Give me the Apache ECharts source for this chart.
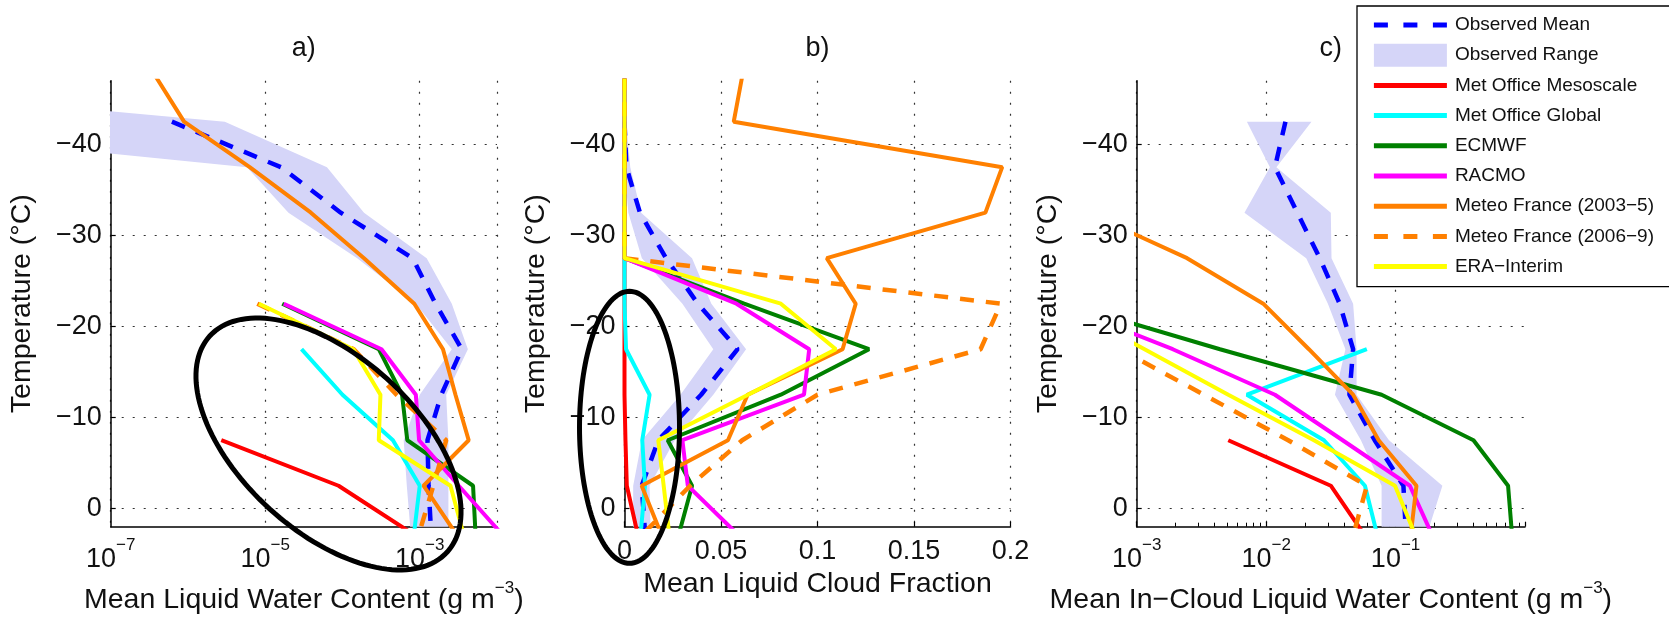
<!DOCTYPE html>
<html><head><meta charset="utf-8">
<script src="https://cdn.jsdelivr.net/npm/echarts@6/dist/echarts.min.js"></script>
<style>html,body{margin:0;padding:0;background:#fff;}#c{width:1669px;height:617px;}</style>
</head><body><div id="c"></div>
<script>
// ---------------- DATA ----------------
const temps = [-47.5, -42.5, -37.5, -32.5, -27.5, -22.5, -17.5, -12.5, -7.5, -2.5, 2.5];
const yTicks = [-40, -30, -20, -10, 0];
const seriesNames = ['Observed Mean', 'Observed Range', 'Met Office Mesoscale', 'Met Office Global', 'ECMWF', 'RACMO', 'Meteo France (2003\u22125)', 'Meteo France (2006\u22129)', 'ERA\u2212Interim'];

// a) Mean Liquid Water Content (g m-3)
const aMean    = [null, 6.2e-7, 1.6e-5, 9.5e-5, 8.1e-4, 1.6e-3, 3.5e-3, 1.9e-3, 1.26e-3, 1.3e-3, 1.4e-3];
const aRangeLo = [1e-12, 7.9e-12, 5.8e-6, 2.0e-5, 1.55e-4, 8.9e-4, 2.6e-3, 1.0e-3, 6.2e-4, 6.8e-4, 7.6e-4];
const aRangeHi = [1e-12, 3.0e-6, 6.3e-5, 1.9e-4, 1.23e-3, 2.6e-3, 4.2e-3, 2.2e-3, 2.35e-3, 2.35e-3, 2.35e-3];
const aMeso    = [null, null, null, null, null, null, null, null, 2.7e-6, 8.9e-5, 7.2e-4];
const aGlobal  = [null, null, null, null, null, null, 2.95e-5, 1.0e-4, 4.5e-4, 1.0e-3, 8.5e-4];
const aECMWF   = [null, null, null, null, null, 1.66e-5, 2.95e-4, 5.9e-4, 6.9e-4, 4.9e-3, 5.25e-3];
const aRACMO   = [null, null, null, null, null, 1.74e-5, 3.2e-4, 8.9e-4, 9.8e-4, 3.2e-3, 1.07e-2];
const aMF0305  = [3.8e-7, 8.9e-7, 6.3e-6, 3.9e-5, 1.9e-4, 8.5e-4, 2.0e-3, 2.9e-3, 4.3e-3, 1.12e-3, 2.8e-3];
const aMF0609  = [null, null, null, null, null, 7.9e-6, 1.4e-4, 5.0e-4, 2.2e-3, 1.5e-3, 1.0e-3];
const aERA     = [null, null, null, null, null, 8.3e-6, 1.38e-4, 3.1e-4, 2.95e-4, 2.5e-3, 3.6e-3];

// b) Mean Liquid Cloud Fraction
const bMean    = [null, 0, 0.001, 0.008, 0.0215, 0.038, 0.0586, 0.0397, 0.0175, 0.0089, 0.0106];
const bRangeLo = [null, 0, 0, 0.002, 0.009, 0.030, 0.046, 0.029, 0.009, 0.0045, 0.0045];
const bRangeHi = [null, 0.0008, 0.003, 0.0086, 0.035, 0.045, 0.063, 0.046, 0.026, 0.013, 0.0135];
const bMeso    = [0, 0, 0, 0, 0, 0, 0, 0, 0.0005, 0.0012, 0.0065];
const bGlobal  = [0, 0, 0, 0, 0, 0, 0.0008, 0.013, 0.0092, 0.0106, 0.0085];
const bECMWF   = [0, 0, 0, 0, 0, 0.062, 0.1267, 0.081, 0.0224, 0.035, 0.0286];
const bRACMO   = [0, 0, 0, 0, 0, 0.058, 0.0957, 0.093, 0.030, 0.0328, 0.057];
const bMF0305  = [0.061, 0.0566, 0.1957, 0.187, 0.1048, 0.1198, 0.113, 0.0638, 0.0536, 0.0089, 0.0184];
const bMF0609  = [0, 0, 0, 0, 0, 0.195, 0.1845, 0.100, 0.061, 0.034, 0.011];
const bERA     = [0, 0, 0, 0, 0, 0.081, 0.1095, 0.064, 0.0175, 0.0203, 0.023];

// c) Mean In-Cloud Liquid Water Content (g m-3)
const cMean    = [null, 0.0141, 0.0117, 0.0174, 0.026, 0.037, 0.047, 0.044, 0.069, 0.115, 0.12];
const cRangeLo = [null, 0.0071, 0.0107, 0.0068, 0.0204, 0.030, 0.041, 0.034, 0.054, 0.078, 0.078];
const cRangeHi = [null, 0.0224, 0.012, 0.0316, 0.032, 0.047, 0.050, 0.050, 0.089, 0.23, 0.178];
const cMeso    = [null, null, null, null, null, null, null, null, 0.0051, 0.0316, 0.055];
const cGlobal  = [null, null, null, null, null, null, 0.060, 0.0071, 0.028, 0.058, 0.071];
const cECMWF   = [null, null, null, null, null, 2.8e-4, 0.0044, 0.078, 0.40, 0.74, 0.79];
const cRACMO   = [null, null, null, null, null, 2.45e-4, 0.0019, 0.0117, 0.039, 0.129, 0.186];
const cMF0305  = [null, null, null, 4.2e-4, 0.00245, 0.0095, 0.0214, 0.047, 0.074, 0.145, 0.132];
const cMF0609  = [null, null, null, null, null, null, 7.4e-4, 0.0033, 0.0148, 0.060, 0.048];
const cERA     = [null, null, null, null, null, 2.5e-4, 0.00115, 0.0051, 0.0234, 0.099, 0.138];

// ---------------- STYLE / LAYOUT ----------------
const FONT = '"Liberation Sans", Arial, Helvetica, sans-serif';
const TXT = '#111';
const GRIDC = '#333';
const DOT = [2, 9];
const RANGE = '#d5d5f8';
const TICK_FS = 27, NAME_FS = 28.5, SUP_FS = 17;
const COLORS = {
  'Observed Mean': '#0000ff', 'Met Office Mesoscale': '#ff0000', 'Met Office Global': '#00ffff',
  'ECMWF': '#008000', 'RACMO': '#ff00ff', 'Meteo France (2003\u22125)': '#ff8000',
  'Meteo France (2006\u22129)': '#ff8000', 'ERA\u2212Interim': '#ffff00'
};
const DASHED = {'Observed Mean': true, 'Meteo France (2006\u22129)': true};
const grids = [
  {left: 110.7, top: 80.7, width: 386.3, height: 446},
  {left: 624.5, top: 80.7, width: 386, height: 446},
  {left: 1136.7, top: 80.7, width: 388.3, height: 446}
];
const supRich = {
  b: {fontFamily: FONT, fontSize: TICK_FS, color: TXT, lineHeight: 46},
  s: {fontFamily: FONT, fontSize: SUP_FS, color: TXT, verticalAlign: 'top', lineHeight: 46}
};
const nameRich = {
  sup: {fontFamily: FONT, fontSize: SUP_FS, color: TXT, verticalAlign: 'top', lineHeight: 40}
};

function pairs(xs) {
  const out = [];
  temps.forEach((t, i) => { if (xs[i] !== null && xs[i] !== undefined) out.push([xs[i], t]); });
  return out;
}
function lineSeries(name, idx, xs) {
  const c = COLORS[name];
  return {
    type: 'line', name, xAxisIndex: idx, yAxisIndex: idx, data: pairs(xs),
    symbol: 'none', showSymbol: false, smooth: false, clip: true, silent: true,
    itemStyle: {color: c},
    lineStyle: {color: c, width: DASHED[name] ? 4.5 : 4, type: DASHED[name] ? [14, 12] : 'solid', cap: 'butt'}
  };
}
function bandSeries(idx, lo, hi) {
  const rows = [];
  temps.forEach((t, i) => { if (lo[i] !== null) rows.push([t, lo[i], hi[i]]); });
  return {
    type: 'custom', name: 'Observed Range', xAxisIndex: idx, yAxisIndex: idx, clip: true, silent: true,
    itemStyle: {color: RANGE},
    encode: {x: [1, 2], y: 0},
    data: rows,
    renderItem(params, api) {
      if (params.dataIndexInside !== 0) return null;
      const n = params.dataInsideLength;
      const pts = [];
      for (let i = 0; i < n; i++) pts.push(api.coord([api.value(1, i), api.value(0, i)]));
      for (let i = n - 1; i >= 0; i--) pts.push(api.coord([api.value(2, i), api.value(0, i)]));
      return {type: 'polygon', shape: {points: pts}, style: {fill: RANGE, stroke: null}};
    }
  };
}
function panelSeries(idx, mean, lo, hi, models) {
  const s = [bandSeries(idx, lo, hi), lineSeries('Observed Mean', idx, mean)];
  seriesNames.slice(2).forEach((n, k) => s.push(lineSeries(n, idx, models[k])));
  return s;
}
function yAxisCfg(i) {
  return {
    type: 'value', gridIndex: i, inverse: true, min: -47, max: 2,
    name: 'Temperature (\u00B0C)', nameLocation: 'middle', nameGap: 74, nameRotate: 90,
    nameMoveOverlap: false,
    nameTextStyle: {fontFamily: FONT, fontSize: NAME_FS, color: TXT},
    axisLine: {show: true, onZero: false, lineStyle: {color: '#000', width: 1.5}},
    axisTick: {show: true, inside: true, length: 5, customValues: yTicks, lineStyle: {color: '#000', width: 1.2}},
    axisLabel: {customValues: yTicks, fontFamily: FONT, fontSize: TICK_FS, color: TXT, margin: 9,
      formatter: v => (v % 10 !== 0 ? '' : (v < 0 ? '\u2212' + Math.abs(v) : String(v)))},
    splitLine: {show: true, lineStyle: {color: GRIDC, type: DOT, width: 1.2}}
  };
}
function logLabel(show) {
  return v => {
    const e = Math.round(Math.log10(v));
    return show(e) ? '{b|10}{s|\u2212' + (-e) + '}' : '';
  };
}

const option = {
  animation: false,
  backgroundColor: '#fff',
  grid: grids.map(g => Object.assign({containLabel: false, outerBoundsMode: 'none'}, g)),
  xAxis: [
    {
      type: 'log', gridIndex: 0, logBase: 10, min: 1e-7, max: 1e-2,
      name: 'Mean Liquid Water Content (g m{sup|\u22123})', nameLocation: 'middle', nameGap: 53, nameMoveOverlap: false,
      nameTextStyle: {fontFamily: FONT, fontSize: NAME_FS, color: TXT, lineHeight: 40, rich: nameRich},
      axisLine: {show: true, onZero: false, lineStyle: {color: '#000', width: 1.5}},
      axisTick: {show: false},
      axisLabel: {formatter: logLabel(e => e % 2 !== 0), margin: 10, rich: supRich},
      splitLine: {show: true, lineStyle: {color: [GRIDC, 'transparent'], type: DOT, width: 1.2}}
    },
    {
      type: 'value', gridIndex: 1, min: 0, max: 0.2, interval: 0.05,
      name: 'Mean Liquid Cloud Fraction', nameLocation: 'middle', nameGap: 42, nameMoveOverlap: false,
      nameTextStyle: {fontFamily: FONT, fontSize: NAME_FS, color: TXT, lineHeight: 30},
      axisLine: {show: true, onZero: false, lineStyle: {color: '#000', width: 1.5}},
      axisTick: {show: true, inside: true, length: 5, lineStyle: {color: '#000', width: 1.2}},
      axisLabel: {fontFamily: FONT, fontSize: TICK_FS, color: TXT, margin: 10, lineHeight: 30},
      splitLine: {show: true, lineStyle: {color: GRIDC, type: DOT, width: 1.2}}
    },
    {
      type: 'log', gridIndex: 2, logBase: 10, min: 1e-3, max: 1,
      name: 'Mean In\u2212Cloud Liquid Water Content (g m{sup|\u22123})', nameLocation: 'middle', nameGap: 53, nameMoveOverlap: false,
      nameTextStyle: {fontFamily: FONT, fontSize: NAME_FS, color: TXT, lineHeight: 40, rich: nameRich},
      axisLine: {show: true, onZero: false, lineStyle: {color: '#000', width: 1.5}},
      axisTick: {show: true, inside: true, length: 5, lineStyle: {color: '#000', width: 1.2}},
      minorTick: {show: true, splitNumber: 9, length: 4, lineStyle: {color: '#000', width: 1}},
      axisLabel: {formatter: logLabel(e => e < 0), margin: 10, rich: supRich},
      splitLine: {show: true, lineStyle: {color: [GRIDC, GRIDC, GRIDC, 'transparent'], type: DOT, width: 1.2}}
    }
  ],
  yAxis: [yAxisCfg(0), yAxisCfg(1), yAxisCfg(2)],
  legend: {
    orient: 'vertical', left: 1357, top: 6,
    padding: [7.5, 8, 8.6, 14.4],
    itemWidth: 73, itemHeight: 23, itemGap: 7.2,
    backgroundColor: '#fff', borderColor: '#000', borderWidth: 1.3, borderRadius: 0,
    textStyle: {fontFamily: FONT, fontSize: 19, color: TXT, lineHeight: 23, width: 207, padding: [0, 0, 0, 3]},
    itemStyle: {opacity: 0},
    lineStyle: {width: 5},
    selectedMode: false,
    data: seriesNames.map(n => n === 'Observed Range'
      ? {name: n, icon: 'rect', itemStyle: {opacity: 1, color: RANGE}}
      : (DASHED[n] ? {name: n, lineStyle: {width: 5, type: [14, 15.5]}} : {name: n}))
  },
  series: [].concat(
    panelSeries(0, aMean, aRangeLo, aRangeHi, [aMeso, aGlobal, aECMWF, aRACMO, aMF0305, aMF0609, aERA]),
    panelSeries(1, bMean, bRangeLo, bRangeHi, [bMeso, bGlobal, bECMWF, bRACMO, bMF0305, bMF0609, bERA]),
    panelSeries(2, cMean, cRangeLo, cRangeHi, [cMeso, cGlobal, cECMWF, cRACMO, cMF0305, cMF0609, cERA])
  )
};

// annotation ellipses & panel titles (pixel layout)
function ellipsePts(cx, cy, rx, ry, deg) {
  const a = deg * Math.PI / 180, pts = [];
  for (let k = 0; k < 144; k++) {
    const t = 2 * Math.PI * k / 144, x = rx * Math.cos(t), y = ry * Math.sin(t);
    pts.push([cx + x * Math.cos(a) - y * Math.sin(a), cy + x * Math.sin(a) + y * Math.cos(a)]);
  }
  return pts;
}
const titles = ['a)', 'b)', 'c)'];
option.graphic = titles.map((t, i) => ({
  type: 'text', x: grids[i].left + grids[i].width / 2, y: 49, z: 100,
  style: {text: t, font: '27px ' + FONT, fill: TXT, textAlign: 'center', textVerticalAlign: 'middle', align: 'center', verticalAlign: 'middle'}
})).concat([
  {type: 'polygon', z: 100, silent: true, shape: {points: ellipsePts(328.5, 444, 160.5, 87.6, 42.3)}, style: {fill: 'none', stroke: '#000', lineWidth: 5}},
  {type: 'polygon', z: 100, silent: true, shape: {points: ellipsePts(629.5, 427.3, 50, 136, 0)}, style: {fill: 'none', stroke: '#000', lineWidth: 5}}
]);

const chart = echarts.init(document.getElementById('c'), null, {renderer: 'canvas'});
chart.setOption(option);
</script>
</body></html>
